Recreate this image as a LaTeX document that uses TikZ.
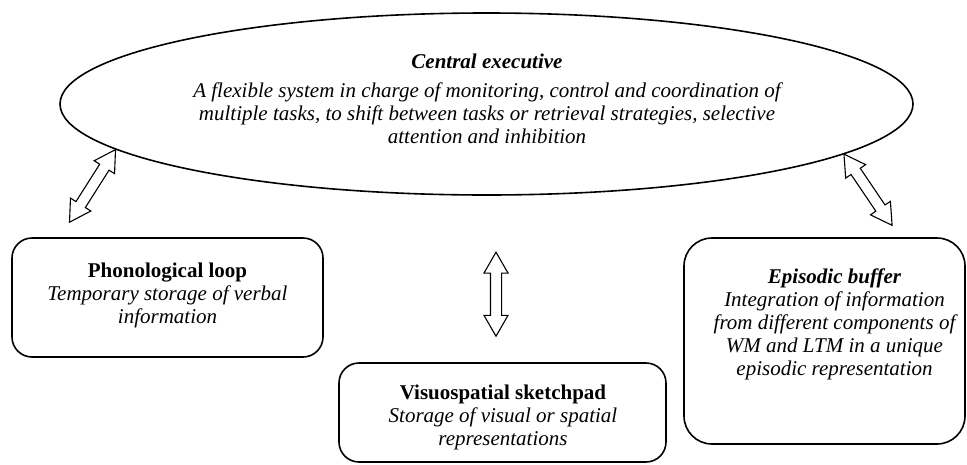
\documentclass[tikz,border=0pt]{standalone}
\usepackage{fontspec}
\setmainfont{Liberation Serif}
\usetikzlibrary{shapes.geometric,shapes.arrows}

\tikzset{
  box/.style={draw, line width=1.6pt, rounded corners=20pt, inner sep=0pt},
  txt/.style={align=center, font=\fontsize{21}{23}\selectfont\itshape, inner sep=0pt},
  dblarrow/.style={double arrow, draw, line width=1.1pt, fill=white, inner xsep=0pt, inner ysep=5pt,
    double arrow head extend=6.5pt, double arrow tip angle=60, sloped},
}

\begin{document}
\begin{tikzpicture}[x=1pt,y=-1pt]
\useasboundingbox (0,0) rectangle (967,464);

% central executive
\node[ellipse, draw, line width=1.6pt, minimum width=853pt, minimum height=182pt] (ce) at (486.5,104) {};
\node[txt] (ce-txt) at ([shift={(0.5,-5)}]ce.center)
  {\textbf{Central executive}\\[6pt]
   A flexible system in charge of monitoring, control and coordination of\\
   multiple tasks, to shift between tasks or retrieval strategies, selective\\
   attention and inhibition};

% slave systems
\node[box, minimum width=311pt, minimum height=119pt] (pl) at (167.5,297.5) {};
\node[txt] (pl-txt) at ([shift={(0,-2)}]pl.center)
  {\textbf{\textup{Phonological loop}}\\Temporary storage of verbal\\information};

\node[box, minimum width=327pt, minimum height=99pt] (vs) at (502.5,412.5) {};
\node[txt] (vs-txt) at ([shift={(0.5,4.5)}]vs.center)
  {\textbf{\textup{Visuospatial sketchpad}}\\Storage of visual or spatial\\representations};

\node[box, rounded corners=28pt, minimum width=281pt, minimum height=206pt] (eb) at (824.5,341) {};
\node[txt] (eb-txt) at ([shift={(10,-17)}]eb.center)
  {\textbf{Episodic buffer}\\Integration of information\\from different components of\\WM and LTM in a unique\\episodic representation};

% two-way arrows
\path (ce.187) -- node[dblarrow, minimum height=86pt] (a-pl) {} ([shift={(-98,-15)}]pl.north);
\path ([shift={(-6.5,-110)}]vs.north) -- node[dblarrow, minimum height=84pt] (a-vs) {} ([shift={(-6.5,-26)}]vs.north);
\path (ce.352) -- node[dblarrow, minimum height=86pt] (a-eb) {} ([shift={(67.5,-12)}]eb.north);
\end{tikzpicture}
\end{document}
